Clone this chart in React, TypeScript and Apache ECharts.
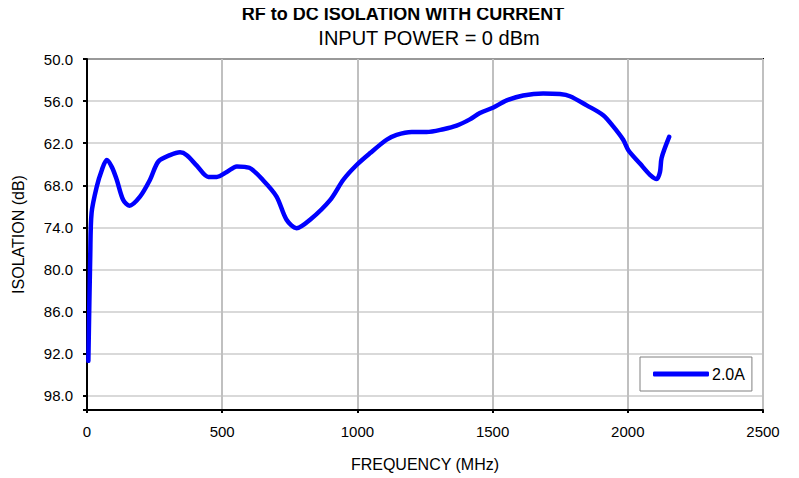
import React, { useEffect, useRef } from "react";
import * as echarts from "echarts";

const frequencyMHz = [
  5, 12, 17, 36, 55, 73, 92, 110, 134, 157, 196, 233, 264, 307, 344, 369, 406, 449, 480, 517,
  554, 600, 652, 701, 738, 775, 825, 899, 948, 997, 1047, 1108, 1145, 1201, 1256, 1318, 1367,
  1416, 1453, 1503, 1552, 1613, 1687, 1749, 1786, 1848, 1909, 1946, 1983, 2002, 2045, 2082,
  2107, 2119, 2125, 2153,
];
const isolationDb = [
  93.0, 78.0, 71.9, 68.2, 65.8, 64.4, 65.4, 67.2, 70.1, 70.9, 69.6, 67.2, 64.6, 63.7, 63.3, 63.7,
  65.2, 66.8, 66.8, 66.1, 65.3, 65.5, 67.3, 69.6, 72.9, 74.1, 72.9, 70.1, 67.2, 65.1, 63.4, 61.5,
  60.8, 60.4, 60.4, 60.0, 59.5, 58.6, 57.7, 56.9, 55.9, 55.2, 54.9, 55.0, 55.3, 56.6, 58.0, 59.6,
  61.5, 63.0, 64.9, 66.5, 67.1, 66.1, 64.1, 61.1,
];
const seriesName = "2.0A";
const yTop = 50; // axis starts at 50.0 (top), inverted
const yBottom = 100;
const yStep = 6;
const xTicks = { min: 0, max: 2500, step: 500 };

const FONT = "'Liberation Sans', Arial, sans-serif";

export default function App() {
  const ref = useRef<HTMLDivElement>(null);
  useEffect(() => {
    if (!ref.current) return;
    const chart = echarts.init(ref.current, null, { renderer: "svg" });
    const data = frequencyMHz.map((f, i) => [f, isolationDb[i] - yTop]);
    chart.setOption({
      animation: false,
      backgroundColor: "#ffffff",
      textStyle: { fontFamily: FONT },
      graphic: [
        {
          type: "text",
          x: 403,
          y: 5,
          style: {
            text: "RF to DC ISOLATION WITH CURRENT",
            font: `bold 18px ${FONT}`,
            fill: "#000",
            align: "center",
            verticalAlign: "top",
          },
        },
        {
          type: "text",
          x: 429,
          y: 28,
          style: {
            text: "INPUT POWER = 0 dBm",
            font: `20px ${FONT}`,
            fill: "#000",
            align: "center",
            verticalAlign: "top",
          },
        },
      ],
      grid: {
        left: 87,
        right: 36,
        top: 59,
        bottom: 68,
        show: true,
        borderColor: "#000",
        borderWidth: 2,
        backgroundColor: "#fff",
      },
      legend: {
        show: true,
        data: [seriesName],
        left: 640,
        top: 357,
        orient: "vertical",
        backgroundColor: "#fff",
        borderColor: "#808080",
        borderWidth: 1,
        padding: [9, 7, 9, 13],
        icon: "roundRect",
        itemWidth: 56,
        itemHeight: 5,
        itemGap: 0,
        textStyle: { fontFamily: FONT, fontSize: 16, color: "#000", padding: [0, 0, 0, -2] },
      },
      xAxis: {
        type: "value",
        min: xTicks.min,
        max: xTicks.max,
        interval: xTicks.step,
        name: "FREQUENCY (MHz)",
        nameLocation: "middle",
        nameGap: 46,
        nameTextStyle: { fontFamily: FONT, fontSize: 16, color: "#000" },
        axisLine: { show: true, onZero: false, lineStyle: { color: "#000", width: 2 } },
        axisTick: { show: true, inside: false, length: 3, lineStyle: { color: "#000", width: 2 } },
        axisLabel: {
          fontFamily: FONT,
          fontSize: 15,
          color: "#000",
          margin: 14,
          formatter: (v: number) => String(v),
        },
        splitLine: { show: true, lineStyle: { color: "#c0c0c0", width: 2 } },
      },
      yAxis: {
        type: "value",
        inverse: true,
        min: 0,
        max: yBottom - yTop,
        interval: yStep,
        name: "ISOLATION (dB)",
        nameLocation: "middle",
        nameGap: 61,
        nameTextStyle: { fontFamily: FONT, fontSize: 16, color: "#000" },
        axisLine: { show: true, onZero: false, lineStyle: { color: "#000", width: 2 } },
        axisTick: { show: true, inside: false, length: 4, lineStyle: { color: "#000", width: 2 } },
        axisLabel: {
          fontFamily: FONT,
          fontSize: 15,
          color: "#000",
          margin: 14,
          formatter: (v: number) => (v > yBottom - yTop - 1 ? "" : (v + yTop).toFixed(1)),
        },
        splitLine: { show: true, lineStyle: { color: "#cccccc", width: 1.5 } },
      },
      series: [
        {
          name: seriesName,
          type: "line",
          data,
          smooth: 0.3,
          symbol: "none",
          lineStyle: { color: "#0000ff", width: 4.5, cap: "round", join: "round" },
          itemStyle: { color: "#0000ff" },
        },
      ],
    });
    return () => chart.dispose();
  }, []);
  return <div ref={ref} style={{ width: 799, height: 478, marginTop: -8, marginLeft: -8 }} />;
}
